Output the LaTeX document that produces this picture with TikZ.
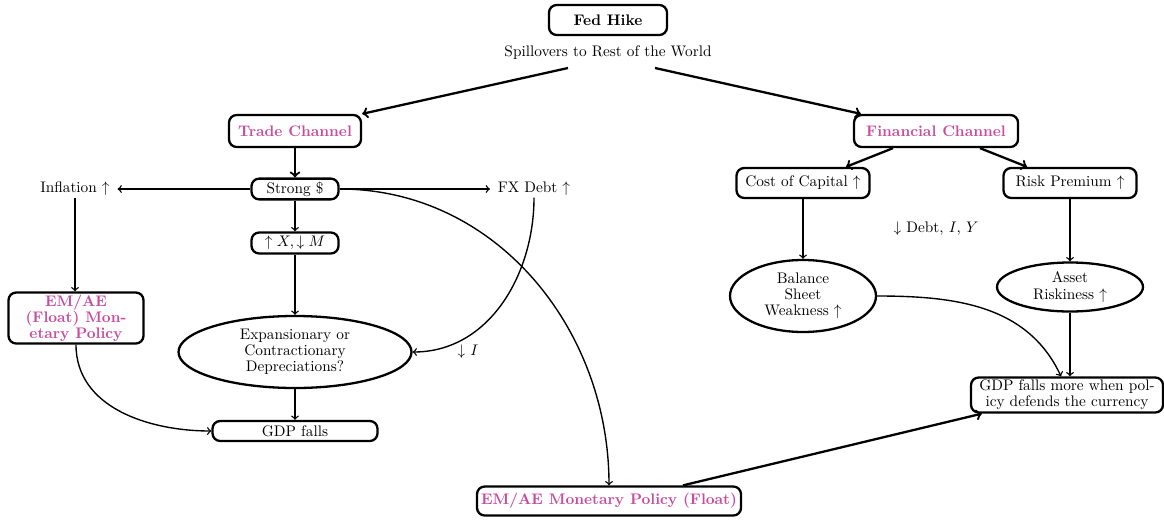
\documentclass[tikz,border=0pt]{standalone}
\usetikzlibrary{shapes.geometric,calc}
\newdimen\px \px=0.6536pt
\definecolor{chan}{HTML}{C84B9E}
\tikzset{
  x=0.6536pt, y=-0.6536pt,
  box/.style={draw, line width=1.5pt, rounded corners=5pt, align=center, inner sep=2pt},
  oval/.style={draw, ellipse, line width=1.5pt, align=center, inner sep=0pt},
  lbl/.style={align=center, inner sep=1pt},
  chantext/.style={text=chan, font=\bfseries},
  conn/.style={->, line width=0.9pt},
  mainconn/.style={->, line width=1.5pt},
}
\begin{document}
\begin{tikzpicture}
\useasboundingbox (0,0) rectangle (1164,520);
% top
\node[box, minimum width=118\px, minimum height=30\px, font=\bfseries] (fed) at (608,20) {Fed Hike};
\node[lbl] (spill) at (608,53) {Spillovers to Rest of the World};
\coordinate (s1) at (568,68);
\coordinate (s2) at (655,68);
% channels
\node[box, chantext, minimum width=132\px, minimum height=32\px] (trade) at (295,131) {Trade Channel};
\node[box, chantext, minimum width=164\px, minimum height=32\px] (fin) at (936,131) {Financial Channel};
% trade side
\node[box, minimum width=87\px, minimum height=20\px] (strong) at (295,189) {Strong \$};
\node[lbl, inner xsep=5pt] (infl) at (75,189) {Inflation $\uparrow$};
\node[lbl, inner xsep=5pt] (fxdebt) at (534,189) {FX Debt $\uparrow$};
\node[box, minimum width=87\px, minimum height=21\px] (xm) at (295,243) {$\uparrow X, \downarrow M$};
\node[oval, minimum width=233\px, minimum height=72\px] (exp) at (295,352) {Expansionary or\\[-1.5pt]Contractionary\\[-1.5pt]Depreciations?};
\node[lbl] (dI) at (468,352) {$\downarrow$ $I$};
\node[box, minimum width=165\px, minimum height=20\px] (gdp) at (295,431) {GDP falls};
\node[box, chantext, minimum width=135\px, minimum height=51\px, inner sep=1pt] (emae) at (76,318) {EM/AE\\[-1.5pt](Float) Mon-\\[-1.5pt]etary Policy};
\node[box, chantext, minimum width=264\px, minimum height=29\px] (empol) at (609,501) {EM/AE Monetary Policy (Float)};
% financial side
\node[box, minimum width=133\px, minimum height=30\px] (cost) at (803,183) {Cost of Capital $\uparrow$};
\node[box, minimum width=133\px, minimum height=30\px] (risk) at (1070,183) {Risk Premium $\uparrow$};
\node[lbl] (ddebt) at (936,229) {$\downarrow$ Debt, $I$, $Y$};
\node[oval, minimum width=146\px, minimum height=72\px] (bal) at (803,296) {Balance\\[-1.5pt]Sheet\\[-1.5pt]Weakness $\uparrow$};
\node[oval, minimum width=146\px, minimum height=49\px] (asset) at (1070,287) {Asset\\[-1.5pt]Riskiness $\uparrow$};
\node[box, minimum width=192\px, minimum height=35\px, inner sep=1pt] (gdpm) at (1067,395) {GDP falls more when pol-\\[-1.5pt]icy defends the currency};
% connectors
\draw[mainconn] (s1) -- (trade.north east);
\draw[mainconn] (s2) -- ($(fin.north west)+(8,0)$);
\draw[mainconn] (trade) -- (strong);
\draw[conn] (strong) -- (infl);
\draw[conn] (strong) -- (fxdebt);
\draw[conn] (strong) -- (xm);
\draw[conn] (xm) -- (exp);
\draw[conn] (exp) -- (gdp);
\draw[conn] (infl.south) -- (emae.north -| infl.south);
\draw[conn] (emae.south) to[out=-90, in=180] (gdp.west);
\draw[conn] (strong.east) to[out=0, in=90] (empol.north);
\draw[conn] (fxdebt.south) to[out=-90, in=0] (exp.east);
\draw[mainconn] ($(empol.north)+(74,0)$) -- ($(gdpm.south west)+(12,0)$);
\draw[mainconn] ($(fin.south)+(-43,0)$) -- ($(cost.north)+(43,0)$);
\draw[mainconn] ($(fin.south)+(44,0)$) -- ($(risk.north)+(-43,0)$);
\draw[conn] (cost) -- (bal);
\draw[conn] (risk) -- (asset);
\draw[conn] (asset.south) -- (asset.south |- gdpm.north);
\draw[conn] (bal.east) to[out=0, in=115] ($(gdpm.north)+(-6,0)$);
\end{tikzpicture}
\end{document}
